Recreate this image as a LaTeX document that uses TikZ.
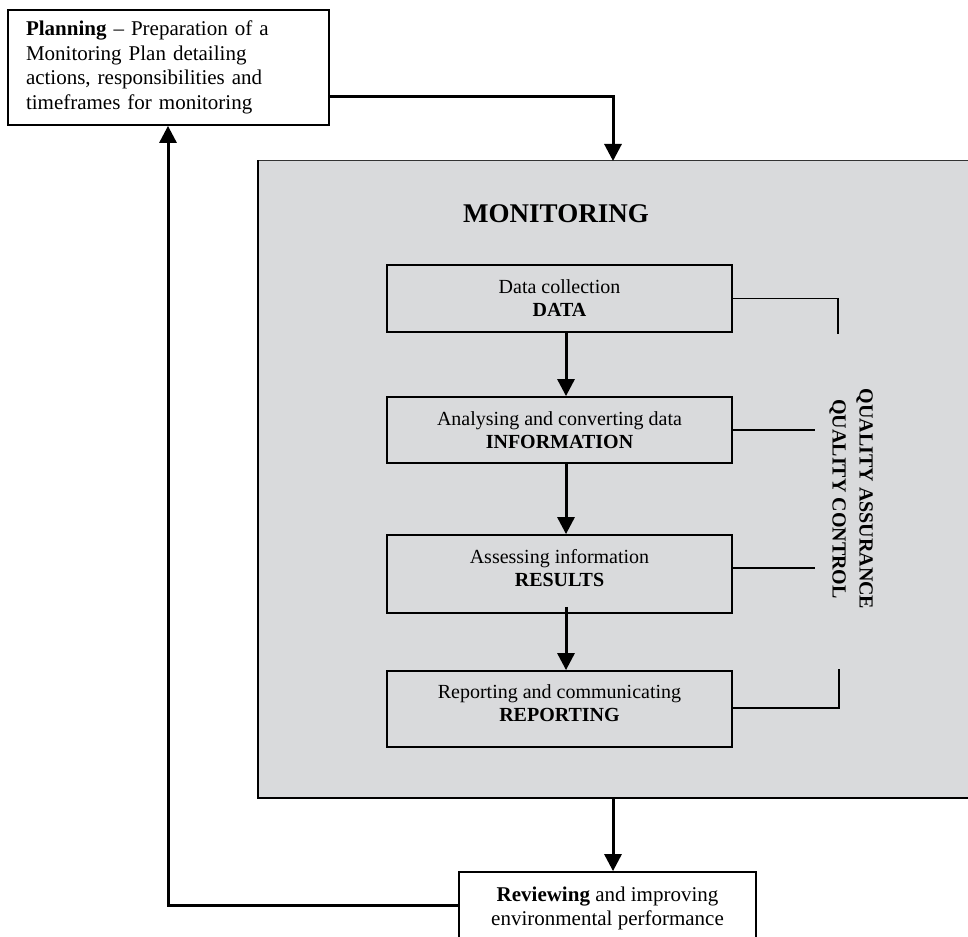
\documentclass[tikz,border=0pt]{standalone}
\usepackage{fontspec}
\setmainfont{Liberation Serif}
\usetikzlibrary{arrows.meta}
\definecolor{mongray}{RGB}{217,218,220}
\tikzset{
  boxA/.style={draw=black, line width=1.8pt, rectangle, inner sep=0pt, align=center},
  outertxt/.style={font=\fontsize{21}{24.5}\selectfont},
  innertxt/.style={font=\fontsize{20}{23}\selectfont, align=center, inner sep=0pt},
  conn/.style={line width=3pt, -{Triangle[width=17pt,length=17pt]}},
  plainconn/.style={line width=3pt},
  qline/.style={line width=1.6pt},
}
\begin{document}
\begin{tikzpicture}[x=1pt,y=-1pt]
\useasboundingbox (0,0) rectangle (968,936);
\clip (0,0) rectangle (968,936);
\fill[white] (0,0) rectangle (968,936);

% monitoring area
\node[fill=mongray, rectangle, inner sep=0pt, minimum width=722pt, minimum height=637pt] (mon) at (619,479.5) {};
\draw[line width=1.2pt, draw=black!80] (mon.north west) -- (mon.north east);
\draw[line width=2.5pt, line cap=rect] (mon.north west) -- (mon.south west) -- (mon.south east);

\node[font=\fontsize{27}{30}\selectfont\bfseries, inner sep=0pt] (montitle) at (556,214) {MONITORING};

% planning
\node[boxA, fill=white, minimum width=321pt, minimum height=115pt, outertxt, align=left, text width=285pt] (plan) at (168.5,67.5)
  {\textbf{Planning} -- Preparation of a\\Monitoring Plan detailing\\actions, responsibilities and\\timeframes for monitoring};

% reviewing
\node[boxA, fill=white, minimum width=297pt, minimum height=73pt, outertxt] (rev) at (607.5,908.5)
  {\textbf{Reviewing} and improving\\environmental performance};

% inner boxes
\node[boxA, minimum width=345pt, minimum height=67pt] (data) at (559.5,298.5) {};
\node[innertxt] (datatxt) at (559.5,298.5) {Data collection\\\textbf{DATA}};
\node[boxA, minimum width=345pt, minimum height=66pt] (info) at (559.5,430) {};
\node[innertxt] (infotxt) at (559.5,430) {Analysing and converting data\\\textbf{INFORMATION}};
\node[boxA, minimum width=345pt, minimum height=78pt] (res) at (559.5,574) {};
\node[innertxt] (restxt) at (559.5,568) {Assessing information\\\textbf{RESULTS}};
\node[boxA, minimum width=345pt, minimum height=76pt] (rep) at (559.5,709) {};
\node[innertxt] (reptxt) at (559.5,703) {Reporting and communicating\\\textbf{REPORTING}};

% QA / QC label
\node[rotate=-90, font=\fontsize{20}{27}\selectfont\bfseries, align=center, inner sep=0pt] (qa) at (851,499)
  {QUALITY ASSURANCE\\QUALITY CONTROL};

% coordinates
\coordinate (ax) at (566,0);
\coordinate (montop) at (613,161);
\coordinate (monbot) at (613,798);
\coordinate (lcorner) at (168,905);
\coordinate (qtop) at (838,334);
\coordinate (qbot) at (839,669);
\coordinate (qmid) at (815,0);

% inner arrows
\draw[conn] (data.south -| ax) -- (info.north -| ax);
\draw[conn] (info.south -| ax) -- (res.north -| ax);
\draw[conn] ([yshift=7pt]res.south -| ax) -- (rep.north -| ax);

% QA/QC brackets
\draw[qline] (data.east) -| (qtop);
\draw[qline] (info.east) -- (info.east -| qmid);
\draw[qline] (res.east |- restxt) -- (restxt -| qmid);
\draw[qline] ([yshift=1pt]rep.east) -| (qbot);

% main cycle
\draw[conn] ([yshift=-29.5pt]plan.east) -| (montop);
\draw[conn] (monbot) -- (monbot |- rev.north);
\draw[conn, line cap=rect] (lcorner -| rev.west) -- (lcorner) -- (lcorner |- plan.south);
\end{tikzpicture}
\end{document}
